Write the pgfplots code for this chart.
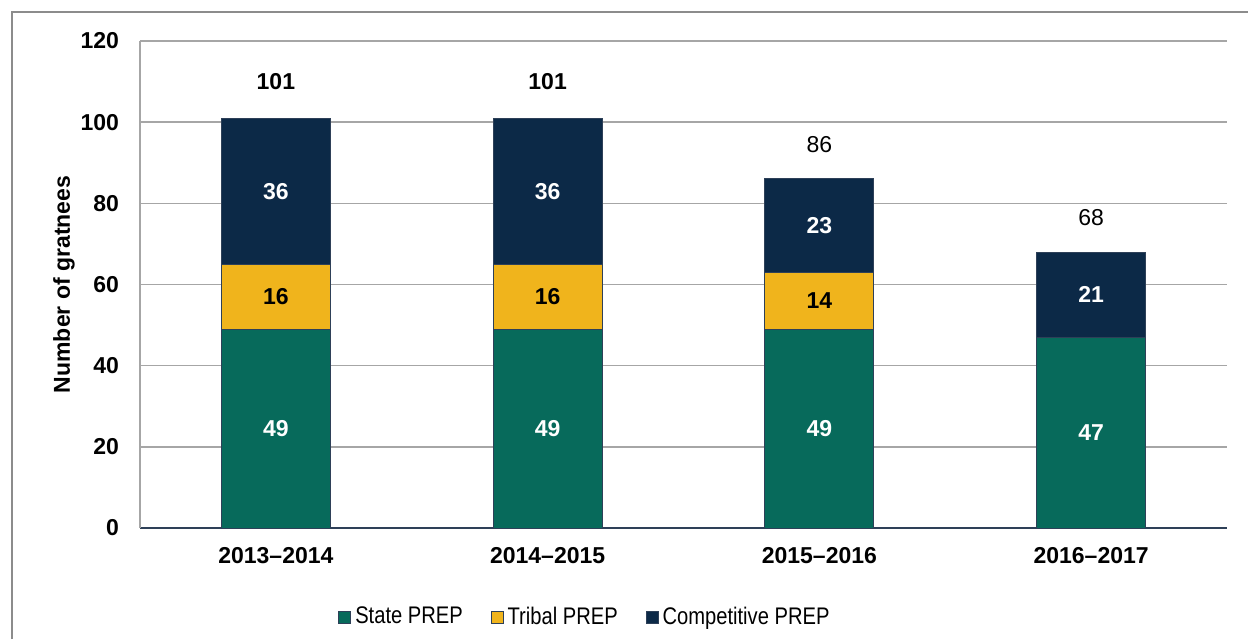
\documentclass[border=0pt]{standalone}
\usepackage{pgfplots}
\pgfplotsset{compat=1.18}
\usepackage{fontspec}
\setmainfont{Liberation Sans}
\newfontfamily\narrowfont[FakeStretch=0.84]{Liberation Sans}
\definecolor{cgreen}{HTML}{076A5B}
\definecolor{cyellow}{HTML}{F0B41C}
\definecolor{cnavy}{HTML}{0C2947}
\definecolor{cedge}{HTML}{2E4058}
\definecolor{cgrid}{HTML}{A6A6A6}
\definecolor{cframe}{HTML}{8C8C8C}
\pgfplotsset{
  common/.style={
    at={(70pt,55.5pt)}, anchor=south west,
    scale only axis, width=543.5pt, height=243.5pt,
    xmin=-0.5, xmax=3.5, ymin=0, ymax=120,
  }
}
\begin{document}
\begin{tikzpicture}
\useasboundingbox (0,0) rectangle (624pt,319.5pt);
\draw[cframe, line width=0.8pt] (6pt,0) -- (6pt,313.5pt) -- (624pt,313.5pt);
\begin{axis}[common,
  ybar stacked, bar width=54.5pt,
  axis x line*=bottom, axis y line*=left,
  x axis line style={cedge, line width=0.8pt},
  y axis line style={cgrid, line width=0.8pt},
  ytick={0,20,...,120},
  ymajorgrids, grid style={cgrid, line width=0.8pt},
  major tick length=0pt,
  xtick={0,1,2,3},
  xticklabels={2013--2014,2014--2015,2015--2016,2016--2017},
  tick label style={font=\fontsize{11.5}{13}\selectfont\bfseries},
  yticklabel style={xshift=-7pt},
  xticklabel style={yshift=-6pt},
  ylabel={\fontsize{11.5}{13}\selectfont\bfseries Number of gratnees},
  ylabel style={yshift=-4pt},
  /pgf/number format/assume math mode=true,
  legend columns=-1,
  legend style={at={(axis description cs:0.4103,-0.1828)}, anchor=center,
    draw=none, font=\fontsize{12}{14}\selectfont\narrowfont,
    /tikz/every even column/.append style={column sep=12pt}},
  legend image code/.code={\draw[#1, draw=cedge, line width=0.4pt] (0pt,-3pt) rectangle (6pt,3pt);},
]
\addplot[fill=cgreen, draw=cedge, line width=0.5pt] coordinates {(0,49) (1,49) (2,49) (3,47)};
\addlegendentry{State PREP}
\addplot[fill=cyellow, draw=cedge, line width=0.5pt] coordinates {(0,16) (1,16) (2,14) (3,0)};
\addlegendentry{Tribal PREP}
\addplot[fill=cnavy, draw=cedge, line width=0.5pt] coordinates {(0,36) (1,36) (2,23) (3,21)};
\addlegendentry{Competitive PREP}
\end{axis}
\begin{axis}[common, axis lines=none, ticks=none,
  nodes near coords, point meta=explicit symbolic,
  nodes near coords align=center,
  every node near coord/.append style={font=\fontsize{11.5}{13}\selectfont\bfseries, anchor=center},
]
\addplot[only marks, mark=none, nodes near coords style={white}] coordinates {(0,24.5)[49] (1,24.5)[49] (2,24.5)[49] (3,23.5)[47]};
\addplot[only marks, mark=none, nodes near coords style={black}] coordinates {(0,57)[16] (1,57)[16] (2,56)[14]};
\addplot[only marks, mark=none, nodes near coords style={white}] coordinates {(0,83)[36] (1,83)[36] (2,74.5)[23] (3,57.5)[21]};
\addplot[only marks, mark=none, nodes near coords style={black}] coordinates {(0,110)[101] (1,110)[101]};
\addplot[only marks, mark=none, nodes near coords style={black, font=\fontsize{11.5}{13}\selectfont}] coordinates {(2,94.5)[86] (3,76.5)[68]};
\end{axis}
\end{tikzpicture}
\end{document}
